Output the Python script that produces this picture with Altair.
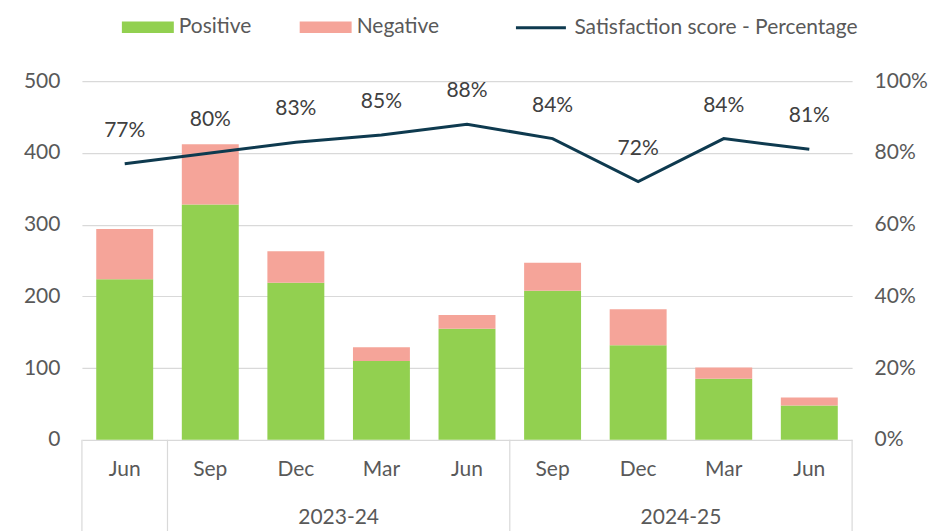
import altair as alt
import pandas as pd

# ---- data ----
months = ["Jun", "Sep", "Dec", "Mar", "Jun", "Sep", "Dec", "Mar", "Jun"]
years = ["2022-23", "2023-24", "2023-24", "2023-24", "2023-24",
         "2024-25", "2024-25", "2024-25", "2024-25"]
positive = [224, 328, 219, 110, 155, 208, 132, 85, 48]
negative = [70, 84, 44, 19, 19, 39, 50, 16, 11]
satisfaction = [77, 80, 83, 85, 88, 84, 72, 84, 81]   # percent
labelled_years = ["2023-24", "2024-25"]
pct_ticks = [0, 20, 40, 60, 80, 100]

GREEN = "#92D050"
PINK = "#F5A499"
NAVY = "#0E3A4F"
GRID = "#D9D9D9"
TXT = "#595959"
FONT = "Lato"
FS = 21

idx = list(range(len(months)))

bars_df = pd.DataFrame(
    [{"i": i, "type": "Positive", "ord": 0, "v": positive[i]} for i in idx]
    + [{"i": i, "type": "Negative", "ord": 1, "v": negative[i]} for i in idx]
)
line_df = pd.DataFrame({
    "i": idx,
    "pct": [p / 100 for p in satisfaction],
    "label": [f"{p}%" for p in satisfaction],
    "series": "Satisfaction score - Percentage",
})
month_df = pd.DataFrame({"i": idx, "month": months})

# group boundaries (category edges) and year label centres
edges = [-0.5]
for i in range(1, len(years)):
    if years[i] != years[i - 1]:
        edges.append(i - 0.5)
edges.append(len(years) - 0.5)
sep_df = pd.DataFrame({"x": edges})
year_df = pd.DataFrame({
    "year": labelled_years,
    "x": [sum(i for i in idx if years[i] == y) / years.count(y) for y in labelled_years],
})

W, H = 771, 359

xscale = alt.Scale(domain=[-0.5, len(months) - 0.5], nice=False, zero=False, padding=0)
pscale = alt.Scale(domain=[0, 1], nice=False)

bars = alt.Chart(bars_df).mark_bar(size=57).encode(
    x=alt.X("i:Q", scale=xscale,
            axis=alt.Axis(labels=False, title=None, ticks=False, grid=False,
                          domainColor=GRID, domainWidth=1.2)),
    y=alt.Y("v:Q", stack="zero",
            scale=alt.Scale(domain=[0, 500], nice=False),
            axis=alt.Axis(values=[0, 100, 200, 300, 400, 500], title=None,
                          domain=False, ticks=False, grid=True, gridColor=GRID,
                          gridWidth=1.2, labelPadding=22, labelFontSize=FS,
                          labelColor=TXT, labelFont=FONT)),
    color=alt.Color("type:N",
                    scale=alt.Scale(domain=["Positive", "Negative"], range=[GREEN, PINK]),
                    legend=alt.Legend(title=None, orient="none", direction="horizontal",
                                      legendX=40, legendY=-80,
                                      symbolType="M-1,-0.22H1V0.22H-1Z",
                                      symbolSize=2704, symbolStrokeWidth=0,
                                      labelFontSize=FS, labelColor=TXT, labelFont=FONT,
                                      labelOffset=5, columnPadding=48, padding=0,
                                      labelLimit=0)),
    order=alt.Order("ord:Q"),
)

seps = alt.Chart(sep_df).mark_rule(color=GRID, strokeWidth=1.2).encode(
    x=alt.X("x:Q", scale=xscale, axis=None),
    y=alt.value(H),
    y2=alt.value(H + 100),
)

month_text = alt.Chart(month_df).mark_text(
    fontSize=FS, color=TXT, font=FONT, baseline="middle"
).encode(
    x=alt.X("i:Q", scale=xscale, axis=None),
    y=alt.value(H + 30),
    text="month:N",
)

year_text = alt.Chart(year_df).mark_text(
    fontSize=FS, color=TXT, font=FONT, baseline="middle"
).encode(
    x=alt.X("x:Q", scale=xscale, axis=None),
    y=alt.value(H + 78),
    text="year:N",
)

line = alt.Chart(line_df).mark_line(strokeWidth=3).encode(
    x=alt.X("i:Q", scale=xscale, axis=None),
    y=alt.Y("pct:Q", scale=pscale,
            axis=alt.Axis(orient="right", values=[t / 100 for t in pct_ticks],
                          format=".0%", title=None, domain=False,
                          ticks=False, grid=False, labelPadding=22, labelFontSize=FS,
                          labelColor=TXT, labelFont=FONT)),
    stroke=alt.Stroke("series:N", scale=alt.Scale(range=[NAVY]),
                      legend=alt.Legend(title=None, orient="none", legendX=433,
                                        legendY=-80, symbolType="stroke",
                                        symbolSize=2500, symbolStrokeWidth=3,
                                        labelFontSize=FS, labelColor=TXT,
                                        labelFont=FONT, labelOffset=7, padding=0,
                                        labelLimit=0)),
)

labels = alt.Chart(line_df).mark_text(
    dy=-33, fontSize=FS, color="#404040", font=FONT
).encode(
    x=alt.X("i:Q", scale=xscale, axis=None),
    y=alt.Y("pct:Q", scale=pscale, axis=None),
    text="label:N",
)

chart = alt.layer(bars, seps, month_text, year_text, line, labels).resolve_scale(
    y="independent"
).properties(
    width=W, height=H,
    autosize=alt.AutoSizeParams(type="none"),
    padding={"left": 74, "top": 73, "right": 90, "bottom": 100},
).configure_view(stroke=None)

chart.save("out.html", embed_options={"renderer": "svg", "actions": False})
